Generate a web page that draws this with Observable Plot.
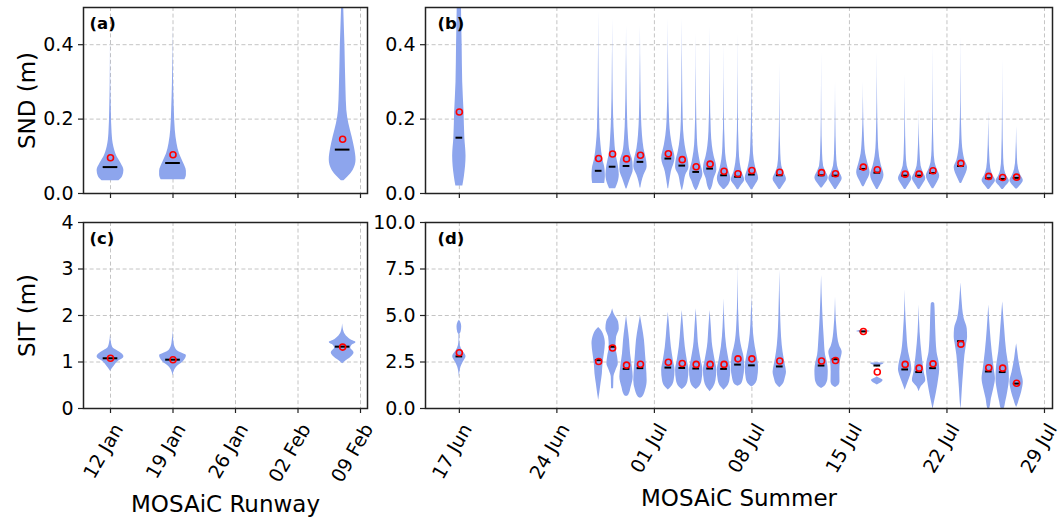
<!DOCTYPE html>
<html><head><meta charset="utf-8">
<script src="https://cdn.jsdelivr.net/npm/d3@7"></script>
<script src="https://cdn.jsdelivr.net/npm/@observablehq/plot@0.6"></script>
<style>
body{margin:0;background:#fff;}
#chart{position:relative;width:1063px;height:521px;font-family:"DejaVu Sans",sans-serif;}
#chart > div{position:absolute;}
svg{overflow:visible}
</style></head><body><div id="chart"></div>
<script>
// ---------- data ----------
const runwayDates = ["2020-01-12","2020-01-19","2020-02-07"];
const runwaySndMean = [0.096, 0.104, 0.146];
const runwaySndMedian = [0.071, 0.082, 0.118];
const runwaySitMean = [1.08, 1.05, 1.32];
const runwaySitMedian = [1.08, 1.05, 1.33];
// violin profiles: [value, relative density (0..1)]
const runwaySndShape = [
  [[0.034,0.63],[0.045,0.9],[0.062,1],[0.08,0.8],[0.098,0.5],[0.125,0.25],[0.161,0.12],[0.224,0.06],[0.3,0.02],[0.42,0]],
  [[0.037,0.88],[0.05,1],[0.06,1],[0.085,0.75],[0.107,0.48],[0.134,0.3],[0.17,0.17],[0.224,0.1],[0.3,0.04],[0.45,0]],
  [[0.034,0.1],[0.045,0.4],[0.062,0.78],[0.09,1],[0.12,0.9],[0.152,0.71],[0.188,0.46],[0.224,0.31],[0.277,0.25],[0.4,0.17],[0.5,0.08],[0.55,0.05]]
];
const runwaySitShape = [
  [[0.8,0],[0.92,0.3],[1.03,0.67],[1.08,0.95],[1.12,1],[1.21,0.7],[1.3,0.2],[1.4,0.08],[1.58,0]],
  [[0.7,0],[0.82,0.12],[0.9,0.3],[1.0,0.75],[1.08,0.95],[1.14,1],[1.2,0.6],[1.25,0.3],[1.4,0.08],[1.68,0]],
  [[0.96,0],[1.0,0.15],[1.1,0.62],[1.2,0.85],[1.3,0.6],[1.36,0.7],[1.42,1],[1.48,0.6],[1.53,0.38],[1.65,0.1],[1.82,0]]
];

const summerDates = ["2020-06-17","2020-06-27","2020-06-28","2020-06-29","2020-06-30","2020-07-02","2020-07-03","2020-07-04","2020-07-05","2020-07-06","2020-07-07","2020-07-08","2020-07-10","2020-07-13","2020-07-14","2020-07-16","2020-07-17","2020-07-19","2020-07-20","2020-07-21","2020-07-23","2020-07-25","2020-07-26","2020-07-27"];
const summerSndMean = [0.219,0.094,0.106,0.093,0.103,0.107,0.091,0.072,0.079,0.060,0.053,0.062,0.057,0.056,0.053,0.071,0.064,0.052,0.052,0.061,0.081,0.046,0.043,0.044];
const summerSndMedian = [0.150,0.061,0.072,0.074,0.085,0.094,0.075,0.058,0.067,0.049,0.045,0.051,0.049,0.049,0.048,0.066,0.056,0.048,0.048,0.055,0.074,0.041,0.039,0.042];
const summerSitMean = [3.0,2.53,3.25,2.33,2.38,2.49,2.42,2.37,2.37,2.37,2.67,2.67,2.55,2.55,2.58,4.14,1.96,2.37,2.17,2.4,3.46,2.19,2.17,1.36];
const summerSitMedian = [2.8,2.6,3.32,2.13,2.17,2.2,2.18,2.15,2.15,2.13,2.36,2.32,2.26,2.31,2.65,4.14,2.31,2.1,1.96,2.17,3.62,1.99,1.96,1.34];
const summerSndShape = [
  [[0.02,0.52],[0.045,0.75],[0.1,1],[0.15,0.82],[0.22,0.7],[0.3,0.5],[0.4,0.42],[0.5,0.32],[0.55,0.3]],
  [[0.027,0.9],[0.045,1],[0.065,0.95],[0.094,0.6],[0.13,0.35],[0.174,0.18],[0.3,0.06],[0.49,0]],
  [[0.013,0.45],[0.022,0.67],[0.05,1],[0.075,0.85],[0.106,0.5],[0.148,0.3],[0.21,0.15],[0.3,0.06],[0.47,0]],
  [[0.012,0.05],[0.017,0.15],[0.04,0.6],[0.063,1],[0.085,0.95],[0.112,0.52],[0.148,0.3],[0.21,0.15],[0.3,0.06],[0.45,0]],
  [[0.015,0.05],[0.031,0.22],[0.049,0.52],[0.072,1],[0.085,0.95],[0.121,0.52],[0.156,0.3],[0.21,0.15],[0.3,0.06],[0.45,0]],
  [[0.013,0.05],[0.031,0.2],[0.058,0.45],[0.094,1],[0.13,0.6],[0.156,0.37],[0.192,0.2],[0.3,0.06],[0.47,0]],
  [[0.009,0.05],[0.022,0.22],[0.049,0.52],[0.07,1],[0.085,0.95],[0.112,0.6],[0.148,0.3],[0.192,0.15],[0.3,0.06],[0.47,0]],
  [[0.008,0.05],[0.013,0.22],[0.031,0.6],[0.052,1],[0.085,0.6],[0.112,0.34],[0.148,0.18],[0.25,0.05],[0.43,0]],
  [[0.008,0.05],[0.013,0.22],[0.04,0.6],[0.063,1],[0.076,0.95],[0.1,0.6],[0.128,0.34],[0.165,0.18],[0.27,0.05],[0.45,0]],
  [[0.011,0.1],[0.022,0.67],[0.04,1],[0.067,0.6],[0.09,0.34],[0.126,0.18],[0.22,0.05],[0.4,0]],
  [[0.01,0.1],[0.02,0.45],[0.036,1],[0.058,0.6],[0.081,0.34],[0.117,0.18],[0.22,0.05],[0.43,0]],
  [[0.01,0.1],[0.02,0.45],[0.04,1],[0.067,0.6],[0.09,0.34],[0.126,0.18],[0.22,0.05],[0.35,0]],
  [[0.011,0.1],[0.02,0.45],[0.038,1],[0.057,0.6],[0.074,0.3],[0.107,0.15],[0.2,0.04],[0.35,0]],
  [[0.015,0.1],[0.025,0.5],[0.042,1],[0.06,0.6],[0.074,0.3],[0.107,0.15],[0.2,0.04],[0.38,0]],
  [[0.011,0.1],[0.022,0.5],[0.04,1],[0.058,0.6],[0.074,0.3],[0.107,0.15],[0.2,0.04],[0.3,0]],
  [[0.018,0.1],[0.031,0.45],[0.056,1],[0.081,0.67],[0.107,0.34],[0.152,0.15],[0.22,0.04],[0.3,0]],
  [[0.011,0.1],[0.022,0.45],[0.049,1],[0.076,0.6],[0.099,0.34],[0.143,0.15],[0.25,0.04],[0.38,0]],
  [[0.011,0.1],[0.022,0.5],[0.04,1],[0.058,0.6],[0.074,0.3],[0.107,0.15],[0.2,0.04],[0.32,0]],
  [[0.011,0.1],[0.022,0.5],[0.04,1],[0.058,0.6],[0.074,0.3],[0.107,0.15],[0.16,0.04],[0.22,0]],
  [[0.013,0.1],[0.025,0.5],[0.047,1],[0.066,0.6],[0.083,0.3],[0.117,0.15],[0.22,0.04],[0.4,0]],
  [[0.027,0.1],[0.04,0.45],[0.07,1],[0.089,0.6],[0.112,0.34],[0.157,0.15],[0.25,0.04],[0.42,0]],
  [[0.011,0.1],[0.02,0.5],[0.035,1],[0.05,0.6],[0.067,0.3],[0.1,0.15],[0.16,0.04],[0.22,0]],
  [[0.011,0.1],[0.02,0.5],[0.033,1],[0.047,0.6],[0.063,0.3],[0.095,0.15],[0.2,0.04],[0.36,0]],
  [[0.012,0.1],[0.02,0.5],[0.035,1],[0.05,0.6],[0.065,0.3],[0.095,0.12],[0.18,0]]
];
const summerSitShape = [
  [[1.65,0],[2.0,0.1],[2.23,0.25],[2.5,0.6],[2.8,1],[3.12,0.45],[3.38,0.15],[3.7,0.05],[3.95,0.05],[4.1,0.25],[4.4,0.35],[4.64,0.2],[4.75,0]],
  [[0.43,0],[0.79,0.15],[1.33,0.35],[1.86,0.55],[2.4,0.65],[2.94,0.85],[3.48,1],[4.01,0.7],[4.28,0.22],[4.35,0]],
  [[1.06,0.15],[1.3,0.17],[1.69,0.2],[2.04,0.5],[2.4,0.85],[2.76,0.75],[3.3,0.5],[3.84,0.6],[4.28,1],[4.64,0.9],[5.09,0.22],[5.36,0]],
  [[0.64,0],[0.7,0.3],[1.15,0.7],[1.69,1],[2.22,0.87],[2.94,0.6],[3.66,0.45],[4.37,0.22],[4.98,0]],
  [[0.55,0],[0.61,0.3],[0.97,0.75],[1.51,1],[2.22,0.9],[2.94,0.75],[3.66,0.6],[4.37,0.3],[4.98,0]],
  [[1.0,0],[1.15,0.45],[1.51,0.87],[2.04,1],[2.58,0.75],[3.3,0.45],[4.37,0.2],[5.18,0]],
  [[1.02,0],[1.15,0.45],[1.51,0.87],[2.04,1],[2.58,0.75],[3.3,0.45],[4.37,0.2],[5.27,0]],
  [[1.02,0],[1.15,0.45],[1.51,0.87],[2.04,1],[2.58,0.75],[3.3,0.4],[4.37,0.18],[5.36,0]],
  [[0.9,0],[1.1,0.45],[1.5,0.87],[2.04,1],[2.58,0.75],[3.3,0.4],[4.37,0.18],[5.27,0]],
  [[0.98,0],[1.15,0.45],[1.51,0.87],[2.04,1],[2.58,0.75],[3.3,0.4],[4.37,0.15],[5.9,0]],
  [[1.19,0],[1.3,0.5],[1.6,0.8],[2.2,1],[2.76,0.9],[3.3,0.55],[3.66,0.37],[4.73,0.15],[6.0,0.05],[7.87,0]],
  [[1.15,0],[1.3,0.5],[1.6,0.85],[2.2,1],[2.76,0.8],[3.3,0.5],[4.0,0.25],[5.0,0.1],[6.0,0]],
  [[1.12,0],[1.3,0.5],[1.6,0.8],[1.96,1],[2.3,0.85],[2.67,0.65],[3.39,0.37],[4.3,0.2],[5.18,0.12],[7.42,0]],
  [[1.08,0],[1.24,0.6],[1.6,0.95],[2.0,1],[2.49,0.85],[2.85,0.6],[3.75,0.4],[5.18,0.18],[7.15,0]],
  [[1.13,0],[1.25,0.5],[1.42,0.67],[1.96,0.65],[2.58,0.75],[3.03,1],[3.39,0.6],[4.28,0.22],[5.99,0]],
  [[4.09,0.3],[4.11,0.8],[4.14,1],[4.17,0.8],[4.19,0.3]],
  [[1.27,0],[1.51,0.87],[1.72,0],[2.2,0],[2.3,0.35],[2.38,0.9],[2.43,1],[2.46,0]],
  [[0.98,0],[1.42,0.45],[1.78,0.8],[2.1,1],[2.5,0.85],[3.03,0.52],[4.28,0.22],[5.3,0.07],[6.38,0]],
  [[0.9,0],[1.15,0.3],[1.51,1],[1.96,0.75],[2.4,0.6],[2.85,0.45],[4.1,0.15],[5.56,0]],
  [[-0.05,0],[0.35,0.22],[0.88,0.52],[1.6,0.85],[2.1,1],[2.5,0.9],[3.03,0.6],[4.28,0.4],[5.4,0.3],[5.65,0.25],[5.7,0]],
  [[-0.05,0],[0.35,0.1],[1.06,0.22],[1.96,0.4],[2.85,0.6],[3.39,0.82],[3.84,1],[4.28,0.95],[4.82,0.5],[5.9,0.15],[6.76,0]],
  [[-0.1,0],[0,0.15],[0.52,0.4],[1.06,0.75],[1.6,1],[2.13,0.82],[3.03,0.52],[4.28,0.22],[5.56,0]],
  [[-0.1,0],[0,0.22],[0.35,0.45],[0.88,0.75],[1.6,1],[2.31,0.9],[3.03,0.6],[4.28,0.3],[5.74,0]],
  [[0.05,0],[0.17,0.15],[0.43,0.37],[0.88,0.75],[1.42,1],[1.96,0.67],[2.67,0.3],[3.1,0.15],[3.48,0]]
];

const runwayTicks = ["2020-01-12","2020-01-19","2020-01-26","2020-02-02","2020-02-09"];
const runwayTickLabels = ["12 Jan","19 Jan","26 Jan","02 Feb","09 Feb"];
const summerTicks = ["2020-06-17","2020-06-24","2020-07-01","2020-07-08","2020-07-15","2020-07-22","2020-07-29"];
const summerTickLabels = ["17 Jun","24 Jun","01 Jul","08 Jul","15 Jul","22 Jul","29 Jul"];
const sndTicks = [0, 0.2, 0.4];
const sndTickLabels = ["0.0","0.2","0.4"];
const runwaySitTicks = [0, 1, 2, 3, 4];
const runwaySitTickLabels = ["0","1","2","3","4"];
const summerSitTicks = [0, 2.5, 5, 7.5, 10];
const summerSitTickLabels = ["0.0","2.5","5.0","7.5","10.0"];

// ---------- helpers ----------
const DAY = 864e5;
const parse = s => new Date(s + "T00:00:00Z");

function violinRows(dates, shapes, halfDays) {
  const rows = [];
  dates.forEach((d, i) => {
    const t = parse(d).getTime();
    for (const [v, w] of shapes[i]) rows.push({id: i, v, x1: new Date(t - w * halfDays * DAY), x2: new Date(t + w * halfDays * DAY)});
  });
  return rows;
}
function statRows(dates, mean, median, halfLine) {
  return dates.map((d, i) => {
    const t = parse(d).getTime();
    return {x: new Date(t), mean: mean[i], median: median[i], x1: new Date(t - halfLine * DAY), x2: new Date(t + halfLine * DAY)};
  });
}

const GRID = {stroke: "#b0b0b0", strokeOpacity: 0.75, strokeDasharray: "4,2.6", strokeWidth: 1};

function panel(o) {
  const xt = o.xTicks.map(parse);
  const xl = new Map(xt.map((d, i) => [+d, o.xLabels[i]]));
  const yl = new Map(o.yTicks.map((d, i) => [d, o.yLabels[i]]));
  const stats = statRows(o.dates, o.mean, o.median, o.halfLine);
  const marks = [
    Plot.gridX(xt, GRID),
    Plot.gridY(o.yTicks.filter(v => v > o.yDomain[0]), GRID),
    Plot.areaX(violinRows(o.dates, o.shapes, o.halfDays), {y: "v", x1: "x1", x2: "x2", z: "id", fill: "#8da5ed", curve: "monotone-y", clip: true}),
    Plot.ruleY(stats, {y: "median", x1: "x1", x2: "x2", stroke: "black", strokeWidth: 2}),
    Plot.dot(stats, {x: "x", y: "mean", r: 3, stroke: "red", strokeWidth: 1.6, fill: "none"}),
    // tick marks only
    Plot.axisX(xt, {tickSize: 5, stroke: "#222", strokeWidth: 1.2, tickFormat: () => "", label: null}),
    Plot.axisY(o.yTicks, {
      tickSize: 5, stroke: "#222", strokeWidth: 1.2, tickPadding: 5,
      tickFormat: d => yl.get(d),
      label: o.yLabel ?? null, labelAnchor: "center", labelOffset: 65, labelArrow: "none",
      fontSize: 19
    }),
    Plot.frame({stroke: "#222", strokeWidth: 1.5}),
    Plot.text([o.tag], {text: d => d, frameAnchor: "top-left", dx: o.tagDx, dy: 10, lineAnchor: "top", textAnchor: "start", fontWeight: "bold", fontSize: 16.5})
  ];
  if (o.showX) {
    // rotated tick labels (no tick lines) and the axis title
    marks.push(Plot.axisX(xt, {
      tickSize: 0, tickPadding: 9, tickRotate: -60,
      tickFormat: d => xl.get(+d),
      label: null, fontSize: 19, dx: 8, dy: 8
    }));
    marks.push(Plot.axisX({
      ticks: [], tickSize: 0,
      label: o.xLabel, labelAnchor: "center", labelOffset: o.xLabelOffset, labelArrow: "none"
    }));
  }
  return Plot.plot({
    width: o.width, height: o.height,
    marginTop: o.mt, marginBottom: o.mb, marginLeft: o.ml, marginRight: o.mr,
    style: {fontFamily: "DejaVu Sans", fontSize: "19px", color: "#000", background: "transparent", overflow: "visible"},
    x: {type: "utc", domain: o.xDomain},
    y: {domain: o.yDomain},
    marks
  });
}

const runwayDomain = [new Date(Date.UTC(2020,0,8,23,25)), new Date(Date.UTC(2020,1,9,18,49))];
const summerDomain = [new Date(Date.UTC(2020,5,14,13,41)), new Date(Date.UTC(2020,6,29,13,49))];

const panels = [
  {pos: [0, 0], width: 380, height: 205, ml: 83, mr: 13, mt: 7, mb: 12, tag: "(a)", tagDx: 6,
   dates: runwayDates, shapes: runwaySndShape, mean: runwaySndMean, median: runwaySndMedian, halfDays: 1.5, halfLine: 0.82,
   xDomain: runwayDomain, xTicks: runwayTicks, xLabels: runwayTickLabels, showX: false,
   yDomain: [0, 0.5], yTicks: sndTicks, yLabels: sndTickLabels, yLabel: "SND (m)"},
  {pos: [360, 0], width: 703, height: 205, ml: 65, mr: 11, mt: 7, mb: 12, tag: "(b)", tagDx: 12,
   dates: summerDates, shapes: summerSndShape, mean: summerSndMean, median: summerSndMedian, halfDays: 0.48, halfLine: 0.24,
   xDomain: summerDomain, xTicks: summerTicks, xLabels: summerTickLabels, showX: false,
   yDomain: [0, 0.5], yTicks: sndTicks, yLabels: sndTickLabels},
  {pos: [0, 205], width: 380, height: 316, ml: 83, mr: 13, mt: 17, mb: 113, tag: "(c)", tagDx: 6,
   dates: runwayDates, shapes: runwaySitShape, mean: runwaySitMean, median: runwaySitMedian, halfDays: 1.5, halfLine: 0.82,
   xDomain: runwayDomain, xTicks: runwayTicks, xLabels: runwayTickLabels, showX: true, xLabel: "MOSAiC Runway", xLabelOffset: 103,
   yDomain: [0, 4], yTicks: runwaySitTicks, yLabels: runwaySitTickLabels, yLabel: "SIT (m)"},
  {pos: [360, 205], width: 703, height: 316, ml: 65, mr: 11, mt: 17, mb: 113, tag: "(d)", tagDx: 12,
   dates: summerDates, shapes: summerSitShape, mean: summerSitMean, median: summerSitMedian, halfDays: 0.48, halfLine: 0.24,
   xDomain: summerDomain, xTicks: summerTicks, xLabels: summerTickLabels, showX: true, xLabel: "MOSAiC Summer", xLabelOffset: 97,
   yDomain: [0, 10], yTicks: summerSitTicks, yLabels: summerSitTickLabels}
];

const root = document.getElementById("chart");
for (const p of panels) {
  const div = document.createElement("div");
  div.style.left = p.pos[0] + "px";
  div.style.top = p.pos[1] + "px";
  const svg = panel(p);
  svg.querySelectorAll("[aria-label='y-axis label'] text, [aria-label='x-axis label'] text").forEach(t => t.setAttribute("font-size", "23"));
  div.appendChild(svg);
  root.appendChild(div);
}
</script></body></html>
